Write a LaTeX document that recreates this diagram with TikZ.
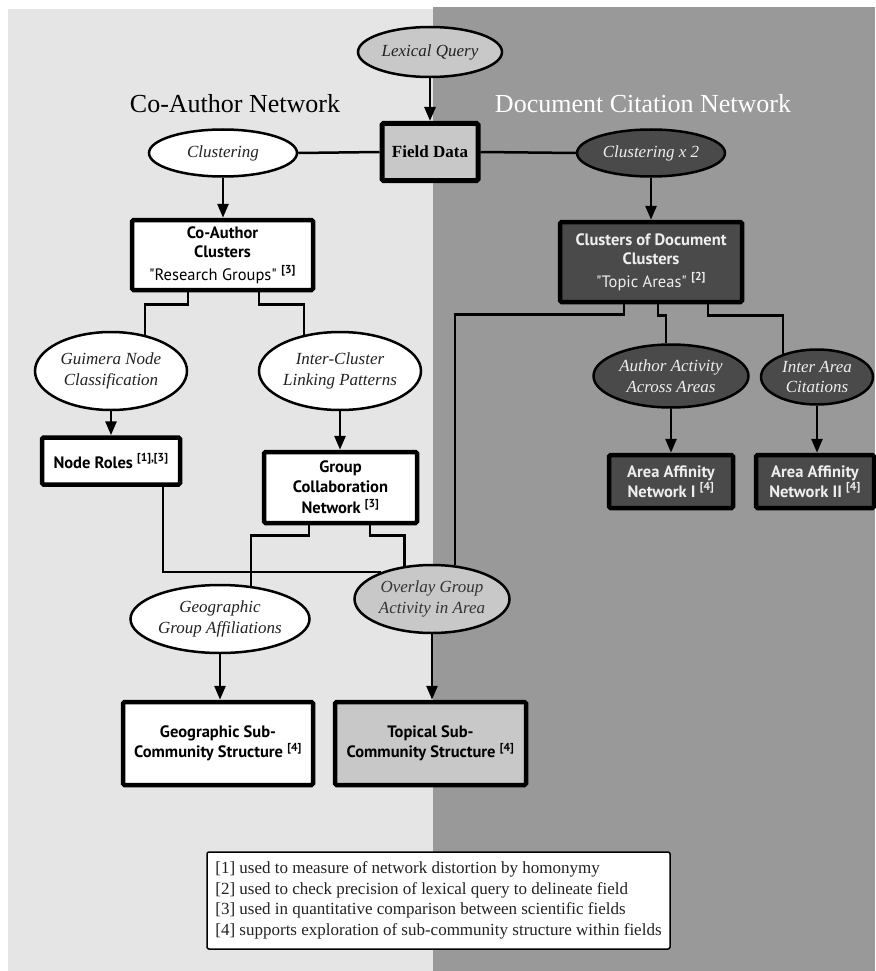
\documentclass[tikz,border=0pt]{standalone}
\usepackage{fontspec}
\setmainfont{Liberation Serif}
\newfontfamily\boxfont{PT Sans}
\usetikzlibrary{shapes.geometric,arrows.meta,calc}
\definecolor{lightbg}{HTML}{E5E5E5}
\definecolor{darkbg}{HTML}{999999}
\definecolor{midgray}{HTML}{C8C8C8}
\definecolor{darkfill}{HTML}{4A4A4A}
\definecolor{inktext}{HTML}{222222}
\definecolor{paletext}{HTML}{EEEEEE}
\begin{document}
\begin{tikzpicture}[x=1pt,y=-1pt,
  proc/.style={ellipse, draw=black, line width=2.5pt, inner sep=0pt, align=center,
    text=inktext, font=\fontsize{17}{20.5}\selectfont\itshape},
  res/.style={rectangle, rounded corners=1.5pt, draw=black, line width=4.5pt, inner sep=0pt,
    align=center, text=black, font=\boxfont\fontsize{16.5}{19}\selectfont},
  resb/.style={res, font=\boxfont\fontsize{16.5}{20}\selectfont\bfseries},
  whitefill/.style={fill=white},
  midfill/.style={fill=midgray},
  darkbox/.style={fill=darkfill, text=paletext},
  link/.style={line width=2.5pt},
  arr/.style={line width=2.8pt, -{Triangle[length=14pt,width=11pt]}},
  title/.style={font=\fontsize{26}{30}\selectfont, inner sep=0pt}
]
\useasboundingbox (0,0) rectangle (875,971);
\fill[lightbg] (8,9) rectangle (433,971);
\fill[darkbg] (433,7) rectangle (875,971);

\node[title, text=black] (t1) at (235,104) {Co-Author Network};
\node[title, text=white] (t2) at (643,104) {Document Citation Network};

% ellipses
\node[proc, midfill, minimum width=144, minimum height=50] (lq) at (430,52) {Lexical Query};
\node[proc, whitefill, minimum width=148, minimum height=47] (cl) at (223,153) {Clustering};
\node[proc, darkbox, minimum width=148, minimum height=47] (cl2) at (651,153) {Clustering x 2};
\node[proc, whitefill, minimum width=152, minimum height=78] (gui) at (111,371) {Guimera Node\\Classification};
\node[proc, whitefill, minimum width=162, minimum height=78] (icl) at (340,371) {Inter-Cluster\\Linking Patterns};
\node[proc, darkbox, minimum width=155, minimum height=63] (aa) at (671,376) {Author Activity\\Across Areas};
\node[proc, darkbox, minimum width=112, minimum height=55] (ia) at (817,377) {Inter Area\\Citations};
\node[proc, midfill, minimum width=155, minimum height=68, text=black!80] (ov) at (432,599) {Overlay Group\\Activity in Area};
\node[proc, whitefill, minimum width=179, minimum height=68] (geo) at (220,619) {Geographic\\Group Affiliations};

% boxes
\node[res, midfill, line width=5pt, minimum width=96, minimum height=57,
  font=\fontsize{17}{20}\selectfont\bfseries] (fd) at (430,152) {Field Data};
\node[res, whitefill, minimum width=181, minimum height=70] (cac) at (222.5,255)
  {\textbf{Co-Author}\\\textbf{Clusters}\\[4pt]"Research Groups" \textsuperscript{\textbf{[3]}}};
\node[res, darkbox, minimum width=182, minimum height=80] (cdc) at (651,262)
  {\textbf{Clusters of Document}\\\textbf{Clusters}\\[4pt]"Topic Areas" \textsuperscript{\textbf{[2]}}};
\node[resb, whitefill, minimum width=138, minimum height=47] (nr) at (111,461)
  {Node Roles \textsuperscript{[1],[3]}};
\node[resb, whitefill, minimum width=153, minimum height=71] (gcn) at (340.5,487.5)
  {Group\\Collaboration\\[1pt]Network \textsuperscript{[3]}};
\node[resb, darkbox, minimum width=124, minimum height=53] (an1) at (671,481.5)
  {Area Affinity\\Network I \textsuperscript{[4]}};
\node[resb, darkbox, minimum width=118, minimum height=53] (an2) at (815,481.5)
  {Area Affinity\\Network II \textsuperscript{[4]}};
\node[resb, whitefill, minimum width=190, minimum height=83] (gsc) at (218,743.5)
  {Geographic Sub-\\Community Structure \textsuperscript{[4]}};
\node[resb, midfill, minimum width=191, minimum height=83] (tsc) at (430.5,743.5)
  {Topical Sub-\\Community Structure \textsuperscript{[4]}};

% legend
\node[rectangle, rounded corners=2pt, draw=black, line width=1.5pt, fill=white,
  minimum width=463, minimum height=97, inner sep=0pt, text=inktext,
  font=\fontsize{17}{20.5}\selectfont] (leg) at (438.5,900.5)
  {\begin{tabular}{@{}l@{}}
   [1] used to measure of network distortion by homonymy\\
   \relax[2] used to check precision of lexical query to delineate field\\
   \relax[3] used in quantitative comparison between scientific fields\\
   \relax[4] supports exploration of sub-community structure within fields
   \end{tabular}};

% connectors
\draw[arr] (lq.south) -- (fd.north);
\draw[link] (cl.east) -- (fd.west);
\draw[link] (fd.east) -- (cl2.west);
\draw[arr] (cl.south) -- (cl.south |- cac.north);
\draw[arr] (cl2.south) -- (cl2.south |- cdc.north);

\draw[link] ($(cac.south)+(-34.5,0)$) -- ($(cac.south)+(-34.5,12)$) -| (gui.47);
\draw[link] ($(cac.south)+(36.5,0)$) -- ($(cac.south)+(36.5,12)$) -| (icl.135);
\draw[arr] (gui.south) -- (gui.south |- nr.north);
\draw[arr] (icl.south) -- (icl.south |- gcn.north);

\draw[link] ($(nr.south)+(52,0)$) |- (ov.152);
\draw[link] ($(gcn.south)+(-31.5,0)$) -- ($(gcn.south)+(-31.5,10)$) -| (geo.47);
\draw[link] ($(gcn.south)+(29.5,0)$) -- ($(gcn.south)+(29.5,10)$) -| (ov.130);

\draw[link] ($(cdc.south)+(-27,0)$) -- ($(cdc.south)+(-27,10)$) -| (ov.56);
\draw[link] ($(cdc.south)+(7,0)$) -- ($(cdc.south)+(7,11)$) -| (aa.99);
\draw[link] ($(cdc.south)+(57,0)$) -- ($(cdc.south)+(57,11)$) -| (ia.146);

\draw[arr] (aa.south) -- (aa.south |- an1.north);
\draw[arr] (ia.south) -- (ia.south |- an2.north);
\draw[arr] (geo.south) -- (geo.south |- gsc.north);
\draw[arr] (ov.south) -- (ov.south |- tsc.north);
\end{tikzpicture}
\end{document}
